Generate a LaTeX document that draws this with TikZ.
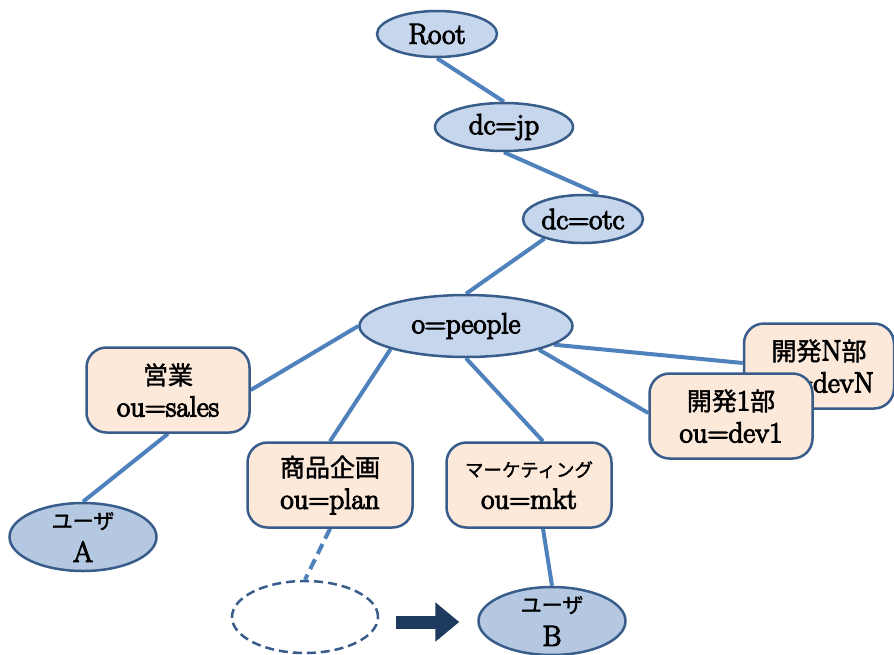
\documentclass[tikz,border=0pt]{standalone}
\usepackage{fontspec}
\setmainfont{Latin Modern Roman}[FakeBold=4]
\newfontfamily\jp{Noto Sans CJK JP}[FakeBold=1.5]
\usetikzlibrary{shapes.geometric,arrows.meta,calc,backgrounds}
\definecolor{edgeblue}{HTML}{4F81BD}
\definecolor{navy}{HTML}{385D8A}
\definecolor{lightblue}{HTML}{C6D6EC}
\definecolor{userblue}{HTML}{B4C8E2}
\definecolor{peach}{HTML}{FCE9DA}
\definecolor{arrowblue}{HTML}{1F3A5F}
\begin{document}
\begin{tikzpicture}[x=1pt,y=-1pt,
  ell/.style={ellipse, draw=navy, line width=2.5pt, fill=lightblue, inner sep=0pt,
    font=\fontsize{29}{32}\selectfont},
  usr/.style={ell, fill=userblue, minimum width=147pt, minimum height=68pt},
  usrtxt/.style={align=center, inner sep=0pt, font=\fontsize{29}{33}\selectfont},
  oubox/.style={rounded corners=20pt, draw=navy, line width=2.5pt, fill=peach,
    minimum width=163pt, minimum height=85pt, align=center, inner sep=0pt,
    font=\fontsize{29}{32}\selectfont},
  link/.style={draw=edgeblue, line width=4pt}]
\useasboundingbox (0,0) rectangle (894,654);
% nodes
\node[ell, minimum width=120pt, minimum height=46pt] (root) at (437,34) {Root};
\node[ell, minimum width=138pt, minimum height=48pt] (jp) at (504,127) {dc=jp};
\node[ell, minimum width=120pt, minimum height=48pt] (otc) at (583,219) {dc=otc};
\node[ell, minimum width=213pt, minimum height=62pt] (people) at (466,326) {o=people};
\node[oubox] (sales) at (168,390) {{\jp\fontsize{25}{28}\selectfont 営業}\\ou=sales};
\node[oubox, minimum width=165pt] (plan) at (330,485) {{\jp\fontsize{25}{28}\selectfont 商品企画}\\ou=plan};
\node[oubox, minimum width=165pt] (mkt) at (529,485) {{\jp\fontsize{18.5}{28}\selectfont マーケティング}\\ou=mkt};
\node[oubox, minimum width=150pt] (devN) at (819,366) {{\jp\fontsize{25}{28}\selectfont 開発}N{\jp\fontsize{25}{28}\selectfont 部}\\ou=devN};
\node[oubox] (dev1) at (731,416) {{\jp\fontsize{25}{28}\selectfont 開発}1{\jp\fontsize{25}{28}\selectfont 部}\\ou=dev1};
\node[usr] (userA) at (83,537) {};
\node[usrtxt] (userAtxt) at (83,537) {{\jp\fontsize{21}{24}\selectfont ユーザ}\\A};
\node[ell, fill=white, draw=navy, dashed, dash pattern=on 9pt off 5pt, minimum width=146pt, minimum height=72pt] (ghost) at (305,617) {};
\node[usr] (userB) at (552,621) {};
\node[usrtxt] (userBtxt) at (552,621) {{\jp\fontsize{21}{24}\selectfont ユーザ}\\B};
% connectors
\begin{scope}[on background layer]
\draw[link] (root.south) -- (jp.north);
\draw[link] (jp.south) -- ([xshift=15pt]otc.north);
\draw[link] (otc.207) -- (people.north);
\draw[link] (people.west) -- (sales.east);
\draw[link] (people.197) -- (plan.north);
\draw[link] (people.south) -- ([xshift=14pt]mkt.north);
\draw[link] (people.-12) -- ([yshift=3pt]devN.west);
\draw[link] (people.-18) -- ([yshift=3pt]dev1.west);
\draw[link] (sales.south) -- (userA.north);
\draw[link, dash pattern=on 11pt off 6pt] (plan.south) -- (ghost.north);
\draw[link] ([xshift=14pt]mkt.south) -- (userB.north);
\end{scope}
\draw[arrowblue, line width=13pt, -{Triangle[length=24pt,width=38pt]}, shorten <=17pt, shorten >=18pt]
  ([yshift=-5pt]ghost.east) -- ([yshift=-5pt]ghost.east -| userB.west);
\end{tikzpicture}
\end{document}
